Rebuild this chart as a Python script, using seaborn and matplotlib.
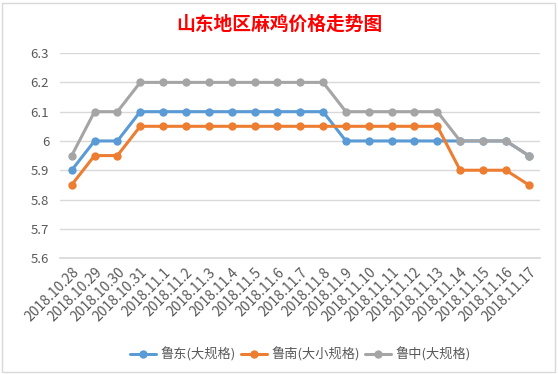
import pandas as pd
import seaborn as sns
import matplotlib.pyplot as plt

dates = ["2018.10.28", "2018.10.29", "2018.10.30", "2018.10.31", "2018.11.1",
         "2018.11.2", "2018.11.3", "2018.11.4", "2018.11.5", "2018.11.6",
         "2018.11.7", "2018.11.8", "2018.11.9", "2018.11.10", "2018.11.11",
         "2018.11.12", "2018.11.13", "2018.11.14", "2018.11.15", "2018.11.16",
         "2018.11.17"]
ludong = [5.9, 6.0, 6.0, 6.1, 6.1, 6.1, 6.1, 6.1, 6.1, 6.1, 6.1, 6.1,
          6.0, 6.0, 6.0, 6.0, 6.0, 6.0, 6.0, 6.0, 5.95]
lunan = [5.85, 5.95, 5.95, 6.05, 6.05, 6.05, 6.05, 6.05, 6.05, 6.05, 6.05, 6.05,
         6.05, 6.05, 6.05, 6.05, 6.05, 5.9, 5.9, 5.9, 5.85]
luzhong = [5.95, 6.1, 6.1, 6.2, 6.2, 6.2, 6.2, 6.2, 6.2, 6.2, 6.2, 6.2,
           6.1, 6.1, 6.1, 6.1, 6.1, 6.0, 6.0, 6.0, 5.95]
series_names = ["鲁东(大规格)", "鲁南(大小规格)", "鲁中(大规格)"]
colors = ["#5B9BD5", "#ED7D31", "#A5A5A5"]

sns.set_theme(style="white")
plt.rcParams["font.family"] = ["Noto Sans CJK SC", "DejaVu Sans"]

rows = []
for name, vals in zip(series_names, [ludong, lunan, luzhong]):
    for i, v in enumerate(vals):
        rows.append({"idx": i, "price": v, "series": name})
df = pd.DataFrame(rows)

fig = plt.figure(figsize=(5.58, 3.74), dpi=100)
ax = fig.add_axes([0.108, 0.31, 0.86, 0.548])

sns.lineplot(data=df, x="idx", y="price", hue="series", hue_order=series_names,
             palette=colors, marker="o", markersize=6, markeredgewidth=0,
             linewidth=2.2, ax=ax)

ax.set_xlim(-0.5, len(dates) - 0.5)
ax.set_ylim(5.6, 6.3)
ax.set_yticks([5.6, 5.7, 5.8, 5.9, 6.0, 6.1, 6.2, 6.3])
ax.set_yticklabels(["5.6", "5.7", "5.8", "5.9", "6", "6.1", "6.2", "6.3"])
ax.set_xticks(range(len(dates)))
ax.set_xticklabels(dates, rotation=45, ha="right", rotation_mode="anchor")
ax.tick_params(axis="y", colors="#595959", labelsize=9.5, length=0, pad=8)
ax.tick_params(axis="x", colors="#595959", labelsize=10, length=0, pad=5)
ax.grid(axis="y", color="#D9D9D9", linewidth=1)
ax.set_axisbelow(True)
for s in ["top", "right", "left"]:
    ax.spines[s].set_visible(False)
ax.spines["bottom"].set_color("#D9D9D9")
ax.set_xlabel("")
ax.set_ylabel("")

ax.legend(loc="center", bbox_to_anchor=(0.5, -0.47), ncol=3, frameon=False,
          fontsize=9.5, labelcolor="#595959", handlelength=2.0, columnspacing=0.4,
          handletextpad=0.3)

fig.text(0.5, 0.935, "山东地区麻鸡价格走势图", color="red", fontsize=13.5,
         fontweight="bold", ha="center", va="center")

fig.patches.append(plt.Rectangle((0.004, 0.006), 0.99, 0.985, transform=fig.transFigure,
                                 fill=False, edgecolor="#D9D9D9", linewidth=1))

fig.savefig("out.png", dpi=100)
